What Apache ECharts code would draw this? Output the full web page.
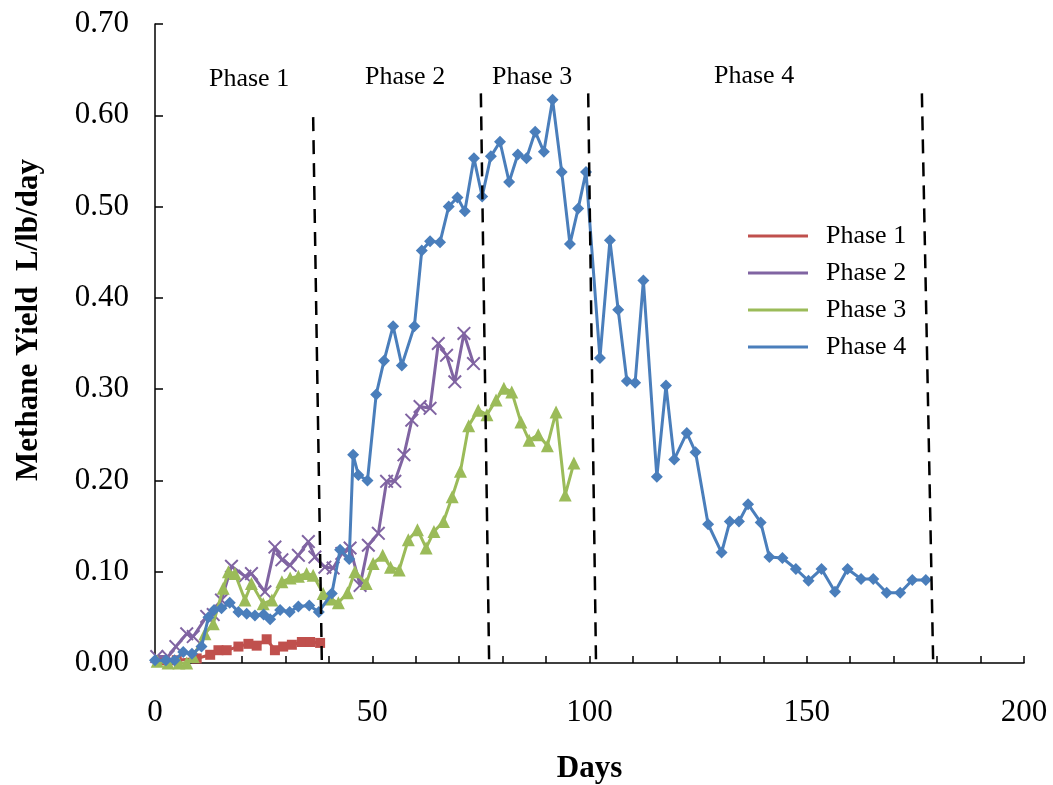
<!DOCTYPE html>
<html>
<head>
<meta charset="utf-8">
<script src="https://cdn.jsdelivr.net/npm/echarts@6/dist/echarts.min.js"></script>
<style>html,body{margin:0;padding:0;background:#fff}#c{width:1053px;height:785px}</style>
</head>
<body>
<div id="c"></div>
<script>
const seriesNames = ['Phase 1', 'Phase 2', 'Phase 3', 'Phase 4'];
const yTicks = [0, 0.1, 0.2, 0.3, 0.4, 0.5, 0.6, 0.7];
const xLabelTicks = [0, 50, 100, 150, 200];

const phase1Days = [1.2, 5, 9.6, 12.7, 14.6, 16.5, 19.2, 21.5, 23.4, 25.7, 27.6, 29.5, 31.5, 33.8, 35.7, 38];
const phase1Vals = [0.003, 0.003, 0.005, 0.009, 0.014, 0.014, 0.018, 0.021, 0.019, 0.026, 0.014, 0.018, 0.020, 0.023, 0.023, 0.022];

const phase2Days = [0.4, 3, 4.8, 7.3, 8.8, 11.9, 13.4, 15.3, 17.6, 20.7, 22.2, 25.3, 27.6, 29.2, 31.1, 33, 35.3, 36.8, 39.1, 41, 43, 44.9, 47.2, 49.1, 51.4, 53.3, 55.2, 57.3, 59.1, 61, 63.3, 65.2, 67.1, 69, 71.1, 73.3];
const phase2Vals = [0.007, 0.007, 0.018, 0.032, 0.029, 0.051, 0.053, 0.069, 0.106, 0.095, 0.098, 0.078, 0.127, 0.113, 0.107, 0.118, 0.133, 0.116, 0.105, 0.104, 0.120, 0.126, 0.085, 0.129, 0.142, 0.199, 0.199, 0.228, 0.266, 0.281, 0.279, 0.350, 0.337, 0.308, 0.361, 0.328];

const phase3Days = [0.5, 3, 5.5, 7.3, 8.8, 11.5, 13.4, 15.7, 16.9, 18.4, 20.7, 22.2, 24.9, 26.9, 29.2, 31.1, 33, 34.9, 36.4, 38.7, 40.5, 42.2, 44.3, 46, 48.6, 50.2, 52.4, 54.2, 56.2, 58.3, 60.4, 62.4, 64.2, 66.4, 68.4, 70.3, 72.2, 74.4, 76.4, 78.5, 80.3, 82.1, 84.2, 86.1, 88.2, 90.3, 92.3, 94.4, 96.4];
const phase3Vals = [0.002, 0.000, 0.000, 0.000, 0.007, 0.032, 0.043, 0.082, 0.100, 0.098, 0.069, 0.087, 0.065, 0.069, 0.089, 0.093, 0.095, 0.098, 0.096, 0.076, 0.070, 0.066, 0.077, 0.100, 0.087, 0.109, 0.118, 0.105, 0.102, 0.135, 0.146, 0.126, 0.144, 0.155, 0.182, 0.210, 0.260, 0.277, 0.272, 0.288, 0.301, 0.297, 0.264, 0.244, 0.250, 0.238, 0.275, 0.184, 0.219];

const phase4Days = [0, 2.5, 4.5, 6.5, 8.5, 10.7, 12.3, 13.6, 15.3, 17.2, 19.2, 21.1, 23, 25, 26.5, 28.8, 31, 33, 35.5, 37.7, 40.7, 42.6, 44.7, 45.6, 46.8, 48.9, 50.9, 52.7, 54.8, 56.8, 59.7, 61.4, 63.3, 65.6, 67.6, 69.6, 71.3, 73.4, 75.3, 77.3, 79.4, 81.5, 83.5, 85.5, 87.5, 89.5, 91.5, 93.6, 95.5, 97.4, 99.2, 102.4, 104.7, 106.6, 108.6, 110.5, 112.4, 115.5, 117.6, 119.5, 122.4, 124.4, 127.3, 130.4, 132.3, 134.4, 136.5, 139.4, 141.4, 144.4, 147.5, 150.4, 153.4, 156.5, 159.4, 162.5, 165.3, 168.4, 171.5, 174.3, 177.4];
const phase4Vals = [0.003, 0.003, 0.003, 0.012, 0.010, 0.018, 0.050, 0.058, 0.060, 0.066, 0.056, 0.054, 0.052, 0.053, 0.048, 0.058, 0.056, 0.062, 0.063, 0.056, 0.076, 0.124, 0.114, 0.228, 0.206, 0.200, 0.294, 0.331, 0.369, 0.326, 0.369, 0.452, 0.462, 0.461, 0.500, 0.510, 0.495, 0.553, 0.511, 0.555, 0.571, 0.527, 0.557, 0.553, 0.582, 0.560, 0.617, 0.538, 0.459, 0.498, 0.538, 0.334, 0.463, 0.387, 0.309, 0.307, 0.419, 0.204, 0.304, 0.223, 0.252, 0.231, 0.152, 0.121, 0.155, 0.155, 0.174, 0.154, 0.116, 0.115, 0.103, 0.090, 0.103, 0.078, 0.103, 0.092, 0.092, 0.077, 0.077, 0.091, 0.091];

// Phase boundary dashed lines
const boundaryTopDays = [36.4, 75.0, 99.7, 176.5];
const boundaryBottomDays = [38.4, 76.9, 101.5, 179.1];
const boundaryTopVals = [0.598, 0.624, 0.624, 0.624];

const phaseLabels = ['Phase 1', 'Phase 2', 'Phase 3', 'Phase 4'];
const yTitle = 'Methane Yield  L/lb/day';
const xTitle = 'Days';

const colors = ['#C0504D', '#8064A2', '#9BBB59', '#4A7EBB'];
const FONT = '"Liberation Serif", "Times New Roman", serif';

function zip(d, v) { return d.map((x, i) => [x, v[i]]); }

const crossPath = 'path://M0,1 L1,0 L5,4 L9,0 L10,1 L6,5 L10,9 L9,10 L5,6 L1,10 L0,9 L4,5 Z';

const mainSeries = [
  { name: seriesNames[0], data: zip(phase1Days, phase1Vals), symbol: 'rect', symbolSize: 10 },
  { name: seriesNames[1], data: zip(phase2Days, phase2Vals), symbol: crossPath, symbolSize: 14 },
  { name: seriesNames[2], data: zip(phase3Days, phase3Vals), symbol: 'triangle', symbolSize: 13 },
  { name: seriesNames[3], data: zip(phase4Days, phase4Vals), symbol: 'diamond', symbolSize: 12 }
].map((s, i) => Object.assign({
  type: 'line',
  color: colors[i],
  lineStyle: { width: 3, color: colors[i] },
  itemStyle: { color: colors[i] },
  showSymbol: true,
  animation: false,
  z: 3 + i
}, s));

const boundarySeries = boundaryTopDays.map((d, i) => ({
  type: 'line',
  data: [[d, boundaryTopVals[i]], [boundaryBottomDays[i], 0]],
  symbol: 'none',
  lineStyle: { color: '#000', width: 2.5, type: [14, 9] },
  animation: false,
  silent: true,
  z: 10
}));

const chart = echarts.init(document.getElementById('c'), null, { renderer: 'canvas' });
chart.setOption({
  backgroundColor: '#fff',
  animation: false,
  grid: { left: 155, right: 29, top: 24, bottom: 122, containLabel: false, outerBoundsMode: 'none' },
  xAxis: {
    type: 'value', min: 0, max: 200, interval: 10,
    name: xTitle, nameLocation: 'middle', nameGap: 90,
    nameTextStyle: { fontFamily: FONT, fontWeight: 'bold', fontSize: 31, color: '#000' },
    axisLine: { show: true, lineStyle: { color: '#000', width: 1.5 } },
    axisTick: { show: true, inside: true, length: 7, lineStyle: { color: '#000', width: 1.5 } },
    axisLabel: {
      fontFamily: FONT, fontSize: 31, color: '#000', margin: 34,
      formatter: v => (xLabelTicks.indexOf(v) >= 0 ? String(v) : '')
    },
    splitLine: { show: false }
  },
  yAxis: {
    type: 'value', min: 0, max: 0.7, interval: 0.1,
    axisLine: { show: true, lineStyle: { color: '#000', width: 1.5 } },
    axisTick: { show: true, inside: true, length: 8, lineStyle: { color: '#000', width: 1.5 } },
    axisLabel: {
      fontFamily: FONT, fontSize: 31, color: '#000', margin: 26,
      formatter: v => v.toFixed(2)
    },
    splitLine: { show: false }
  },
  legend: {
    data: seriesNames.map(n => ({ name: n, icon: 'rect' })),
    orient: 'vertical', left: 743, top: 218,
    itemWidth: 60, itemHeight: 3, itemGap: 11,
    textStyle: { fontFamily: FONT, fontSize: 26, color: '#000', padding: [0, 0, 0, 13] }
  },
  graphic: [
    { type: 'text', x: 29, y: 320, rotation: Math.PI / 2,
      style: { text: yTitle, font: 'bold 31px ' + FONT, fill: '#000', align: 'center', verticalAlign: 'middle' } },
    { type: 'text', left: 209, top: 66, style: { text: phaseLabels[0], font: '26px ' + FONT, fill: '#000' } },
    { type: 'text', left: 365, top: 64, style: { text: phaseLabels[1], font: '26px ' + FONT, fill: '#000' } },
    { type: 'text', left: 492, top: 64, style: { text: phaseLabels[2], font: '26px ' + FONT, fill: '#000' } },
    { type: 'text', left: 714, top: 63, style: { text: phaseLabels[3], font: '26px ' + FONT, fill: '#000' } }
  ],
  series: mainSeries.concat(boundarySeries)
});
</script>
</body>
</html>
